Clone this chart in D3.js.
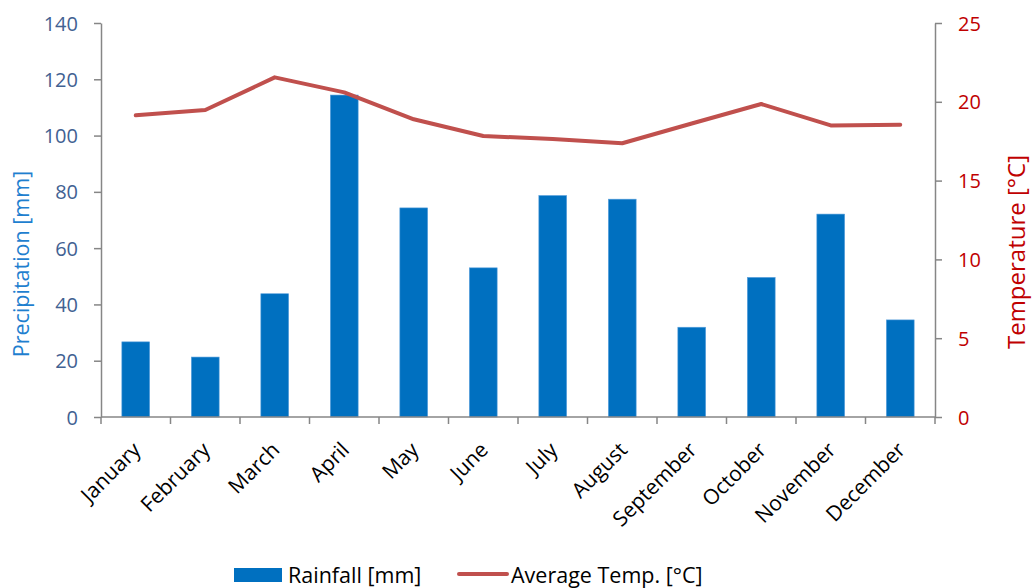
<!DOCTYPE html>
<html><head><meta charset="utf-8">
<script src="https://cdn.jsdelivr.net/npm/d3@7"></script>
<style>body{margin:0;background:#fff}svg{display:block}text{font-family:"Open Sans",sans-serif}</style>
</head><body><svg id="c" width="1032" height="588"></svg>
<script>
const months = ["January","February","March","April","May","June","July","August","September","October","November","December"];
const rainfall = [26.7,21.3,43.8,114.4,74.3,53.0,78.7,77.4,31.9,49.6,72.1,34.5];
const temperature = [19.14,19.48,21.55,20.6,18.89,17.83,17.64,17.37,18.62,19.86,18.5,18.55];
const precipTicks = [0,20,40,60,80,100,120,140];
const tempTicks = [0,5,10,15,20,25];

const svg = d3.select("#c");
const L=101, R=935, T=23, B=417;
const x = d3.scaleBand().domain(months).range([L,R]).paddingInner(0.6).paddingOuter(0.3);
const xb = d3.scaleBand().domain(months).range([L,R]);
const y1 = d3.scaleLinear().domain([0,140]).range([B,T]);
const y2 = d3.scaleLinear().domain([0,25]).range([B,T]);
const axisCol="#868686";

// bars
svg.append("g").selectAll("rect").data(rainfall).join("rect")
  .attr("x",(d,i)=>x(months[i])).attr("width",x.bandwidth())
  .attr("y",d=>y1(d)).attr("height",d=>B-y1(d))
  .attr("fill","#0070C0").attr("stroke","#5aa0dc").attr("stroke-width",0.6);

// left axis
const gl = svg.append("g").attr("transform",`translate(${L},0)`)
  .call(d3.axisLeft(y1).tickValues(precipTicks).tickSize(7).tickPadding(16).tickSizeOuter(0));
gl.select(".domain").attr("stroke",axisCol).attr("stroke-width",1.5);
gl.selectAll(".tick line").attr("stroke",axisCol).attr("stroke-width",1.5);
gl.selectAll(".tick text").attr("fill","#416192").style("font-size","20px").attr("dy","0.35em");

// right axis
const gr = svg.append("g").attr("transform",`translate(${R},0)`)
  .call(d3.axisRight(y2).tickValues(tempTicks).tickSize(7).tickPadding(16).tickSizeOuter(0));
gr.select(".domain").attr("stroke",axisCol).attr("stroke-width",1.5);
gr.selectAll(".tick line").attr("stroke",axisCol).attr("stroke-width",1.5);
gr.selectAll(".tick text").attr("fill","#C00000").style("font-size","20px").attr("dy","0.35em");

// bottom axis
svg.append("line").attr("x1",L).attr("x2",R).attr("y1",B).attr("y2",B).attr("stroke",axisCol).attr("stroke-width",1.5);
const bounds = months.map(m=>xb(m)).concat([R]);
svg.append("g").selectAll("line").data(bounds).join("line")
  .attr("x1",d=>d).attr("x2",d=>d).attr("y1",B).attr("y2",B+7).attr("stroke",axisCol).attr("stroke-width",1.5);
svg.append("g").selectAll("text").data(months).join("text")
  .attr("transform",d=>`translate(${xb(d)+xb.bandwidth()/2+1},${B+29}) rotate(-45)`)
  .attr("text-anchor","end").attr("dy","0.35em").attr("fill","#000").style("font-size","21px").text(d=>d);

// line
const line = d3.line().x((d,i)=>xb(months[i])+xb.bandwidth()/2).y(d=>y2(d));
svg.append("path").datum(temperature).attr("d",line).attr("fill","none")
  .attr("stroke","#C0504D").attr("stroke-width",4).attr("stroke-linejoin","round").attr("stroke-linecap","round");

// axis titles
svg.append("text").attr("transform","translate(29,264) rotate(-90)").attr("text-anchor","middle")
  .attr("fill","#1F7FCF").style("font-size","21.5px").text("Precipitation [mm]");
svg.append("text").attr("transform","translate(1025,252) rotate(-90)").attr("text-anchor","middle")
  .attr("fill","#C00000").style("font-size","24px").text("Temperature [°C]");

// legend
svg.append("rect").attr("x",234).attr("y",568).attr("width",48).attr("height",14).attr("fill","#0070C0");
svg.append("text").attr("x",288).attr("y",575).attr("dy","0.35em").style("font-size","21.5px").attr("fill","#000").text("Rainfall [mm]");
svg.append("line").attr("x1",459).attr("x2",507).attr("y1",574).attr("y2",574).attr("stroke","#C0504D").attr("stroke-width",4).attr("stroke-linecap","round");
svg.append("text").attr("x",511).attr("y",575).attr("dy","0.35em").style("font-size","21.5px").attr("fill","#000").text("Average Temp. [°C]");
</script></body></html>
